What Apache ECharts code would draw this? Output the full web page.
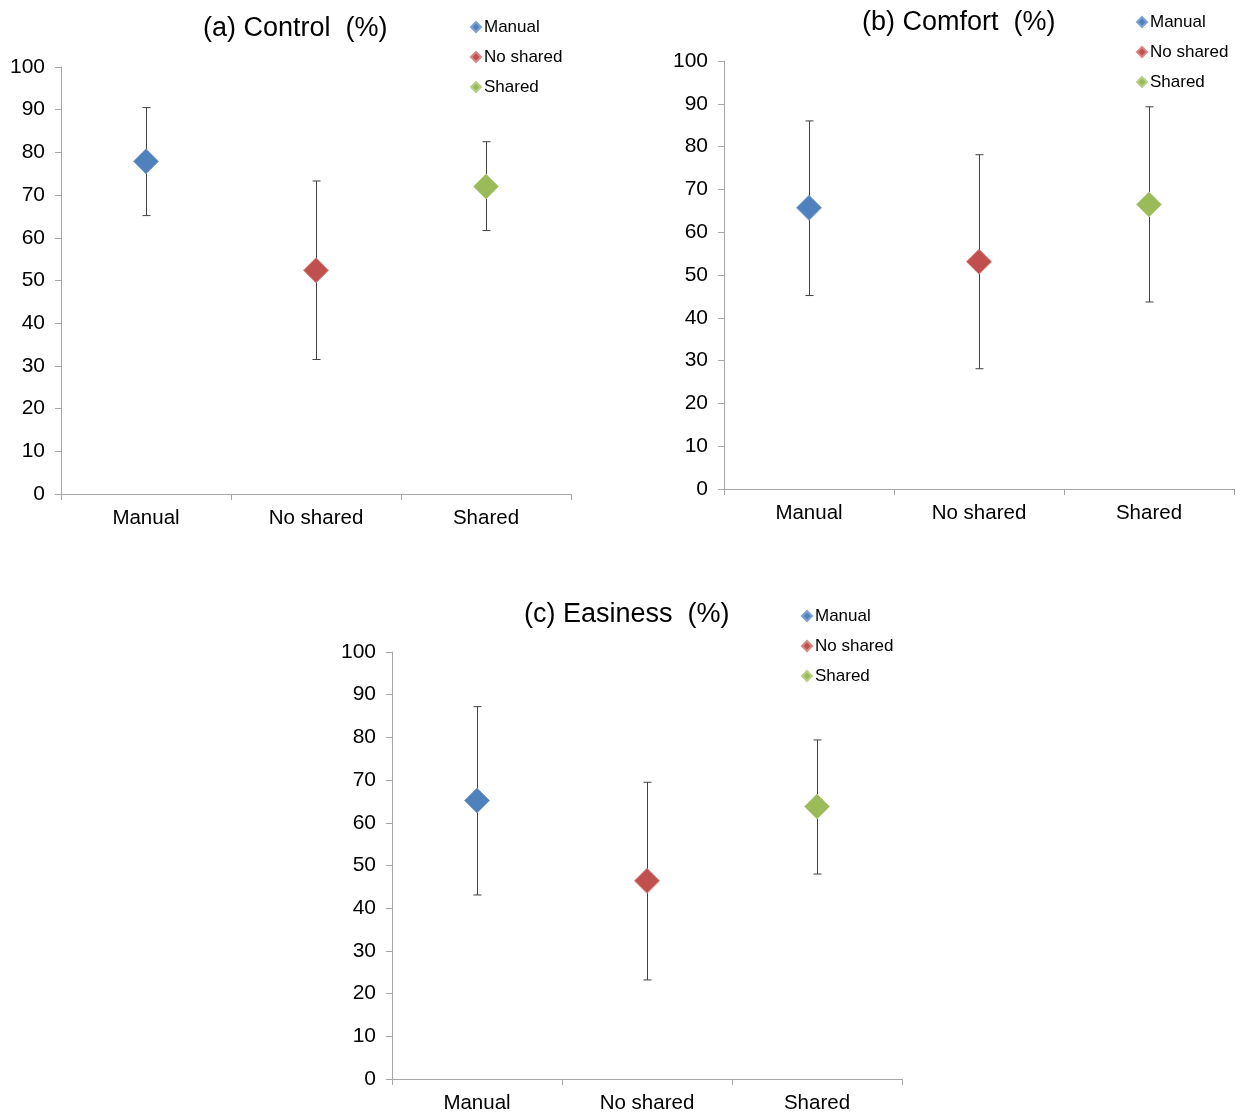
<!DOCTYPE html>
<html>
<head>
<meta charset="utf-8">
<script src="https://cdn.jsdelivr.net/npm/echarts@6/dist/echarts.min.js"></script>
<style>
  html, body { margin: 0; padding: 0; background: #fff; }
  #chart { width: 1240px; height: 1115px; }
</style>
</head>
<body>
<div id="chart"></div>
<script>
// categories and tick labels
const categories = ['Manual', 'No shared', 'Shared'];
const yTicks = [0, 10, 20, 30, 40, 50, 60, 70, 80, 90, 100];

// (a) Control (%)
const controlMean = [77.9, 52.4, 72.0];
const controlLow = [65.2, 31.5, 61.7];
const controlHigh = [90.5, 73.3, 82.5];

// (b) Comfort (%)
const comfortMean = [65.7, 53.1, 66.5];
const comfortLow = [45.2, 28.1, 43.7];
const comfortHigh = [86.0, 78.1, 89.3];

// (c) Easiness (%)
const easinessMean = [65.2, 46.4, 63.8];
const easinessLow = [43.1, 23.2, 48.0];
const easinessHigh = [87.2, 69.5, 79.4];

const colors = ['#4F81BD', '#C0504D', '#9BBB59'];
const borders = ['#7EA3D3', '#D98784', '#B9D08A'];
const font = '"Liberation Sans", Arial, sans-serif';

const panels = [
    { title: '(a) Control  (%)', mean: controlMean, low: controlLow, high: controlHigh,
      grid: { left: 61, top: 67, width: 510, height: 427 },
      titlePos: { left: 203, top: 15 }, legendPos: { left: 470, top: 17 } },
    { title: '(b) Comfort  (%)', mean: comfortMean, low: comfortLow, high: comfortHigh,
      grid: { left: 724, top: 61, width: 510, height: 428 },
      titlePos: { left: 862, top: 9 }, legendPos: { left: 1136, top: 12 } },
    { title: '(c) Easiness  (%)', mean: easinessMean, low: easinessLow, high: easinessHigh,
      grid: { left: 392, top: 652, width: 510, height: 427 },
      titlePos: { left: 524, top: 601 }, legendPos: { left: 801, top: 606 } }
];

const chart = echarts.init(document.getElementById('chart'));

const errorBars = (idx, lows, highs) => ({
    type: 'custom',
    xAxisIndex: idx,
    yAxisIndex: idx,
    z: 1,
    silent: true,
    data: categories.map((c, i) => [i, lows[i], highs[i]]),
    encode: { x: 0, y: [1, 2] },
    renderItem: (params, api) => {
        const lo = api.coord([api.value(0), api.value(1)]);
        const hi = api.coord([api.value(0), api.value(2)]);
        const x = Math.round(lo[0]) + 0.5;
        const w = 4;
        const style = { stroke: '#404040', lineWidth: 1 };
        return {
            type: 'group',
            children: [
                { type: 'line', shape: { x1: x, y1: hi[1], x2: x, y2: lo[1] }, style },
                { type: 'line', shape: { x1: x - w, y1: hi[1], x2: x + w, y2: hi[1] }, style },
                { type: 'line', shape: { x1: x - w, y1: lo[1], x2: x + w, y2: lo[1] }, style }
            ]
        };
    }
});

const option = {
    animation: false,
    backgroundColor: '#fff',
    textStyle: { fontFamily: font },
    title: panels.map(p => ({
        text: p.title,
        left: p.titlePos.left,
        top: p.titlePos.top,
        padding: 0,
        textStyle: { fontFamily: font, fontSize: 27, fontWeight: 'normal', color: '#000' }
    })),
    legend: panels.map(p => ({
        data: categories,
        orient: 'vertical',
        left: p.legendPos.left,
        top: p.legendPos.top,
        padding: 0,
        icon: 'diamond',
        itemWidth: 10,
        itemHeight: 10,
        itemGap: 10,
        selectedMode: false,
        textStyle: { fontFamily: font, fontSize: 17, color: '#000', lineHeight: 20, padding: [0, 0, 0, -2] }
    })),
    grid: panels.map(p => p.grid),
    xAxis: panels.map((p, i) => ({
        type: 'category',
        gridIndex: i,
        data: categories,
        boundaryGap: true,
        axisLine: { lineStyle: { color: '#A6A6A6', width: 1 } },
        axisTick: { show: true, length: 6, lineStyle: { color: '#A6A6A6' } },
        axisLabel: { color: '#000', fontSize: 20.5, margin: 14, fontFamily: font },
        splitLine: { show: false }
    })),
    yAxis: panels.map((p, i) => ({
        type: 'value',
        gridIndex: i,
        min: yTicks[0],
        max: yTicks[yTicks.length - 1],
        interval: 10,
        axisLine: { show: true, lineStyle: { color: '#A6A6A6', width: 1 } },
        axisTick: { show: true, length: 6, lineStyle: { color: '#A6A6A6' } },
        axisLabel: { color: '#000', fontSize: 21, margin: 16, fontFamily: font },
        splitLine: { show: false }
    })),
    series: []
};

panels.forEach((p, idx) => {
    option.series.push(errorBars(idx, p.low, p.high));
    categories.forEach((c, i) => {
        option.series.push({
            name: c,
            type: 'scatter',
            xAxisIndex: idx,
            yAxisIndex: idx,
            z: 3,
            symbol: 'diamond',
            symbolSize: 25,
            itemStyle: { color: colors[i], borderColor: borders[i], borderWidth: 1, opacity: 1 },
            data: [[i, p.mean[i]]]
        });
    });
});

chart.setOption(option);
window.addEventListener('resize', () => chart.resize());
</script>
</body>
</html>
